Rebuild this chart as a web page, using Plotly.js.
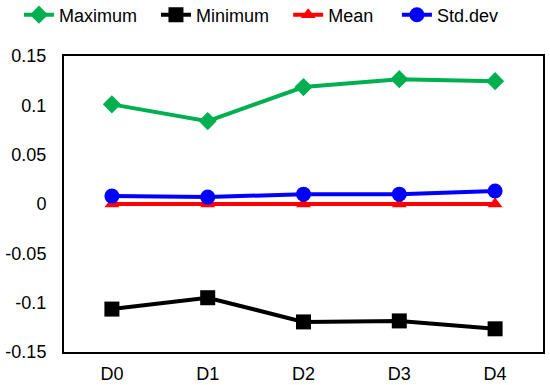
<!DOCTYPE html>
<html>
<head>
<script src="https://cdn.plot.ly/plotly-3.0.1.min.js"></script>
<style>html,body{margin:0;padding:0;background:#fff;}#chart{width:550px;height:385px;}</style>
</head>
<body>
<div id="chart"></div>
<script>
const categories = ["D0", "D1", "D2", "D3", "D4"];
const maximum = [0.101, 0.084, 0.1185, 0.1265, 0.1245];
const minimum = [-0.1065, -0.095, -0.1195, -0.1185, -0.1265];
const mean = [0, 0, 0, 0, 0];
const stddev = [0.008, 0.007, 0.010, 0.010, 0.0132];
const yTicks = [-0.15, -0.1, -0.05, 0, 0.05, 0.1, 0.15];
const yTickText = ["-0.15", "-0.1", "-0.05", "0", "0.05", "0.1", "0.15"];

const traces = [
  {x: categories, y: maximum, name: "Maximum", mode: "lines+markers", legend: "legend",
   line: {color: "#00B050", width: 4}, marker: {symbol: "diamond", size: 14, color: "#00B050"}},
  {x: categories, y: minimum, name: "Minimum", mode: "lines+markers", legend: "legend2",
   line: {color: "#000000", width: 4}, marker: {symbol: "square", size: 15, color: "#000000"}},
  {x: categories, y: mean, name: "Mean", mode: "lines+markers", legend: "legend3",
   line: {color: "#FF0000", width: 4}, marker: {symbol: "triangle-up", size: 13, color: "#FF0000"}},
  {x: categories, y: stddev, name: "Std.dev", mode: "lines+markers", legend: "legend4",
   line: {color: "#0000FF", width: 4}, marker: {symbol: "circle", size: 15, color: "#0000FF"}}
];

function leg(x) {
  return {orientation: "h", x: x, xanchor: "left", y: 1.1385, yanchor: "middle",
          font: {size: 18}, itemwidth: 30, bgcolor: "rgba(0,0,0,0)"};
}

const layout = {
  width: 550, height: 385,
  margin: {l: 64, r: 7, t: 56, b: 33, autoexpand: false},
  paper_bgcolor: "#fff", plot_bgcolor: "#fff",
  font: {family: "Liberation Sans, Arial, sans-serif", size: 18, color: "#000"},
  showlegend: true,
  legend: leg(-0.094),
  legend2: leg(0.192),
  legend3: leg(0.468),
  legend4: leg(0.695),
  xaxis: {type: "category", range: [-0.5, 4.5], showline: true, mirror: true,
          linecolor: "#000", linewidth: 2, showgrid: false, zeroline: false,
          ticks: "outside", ticklen: 4, tickcolor: "rgba(0,0,0,0)"},
  yaxis: {range: [-0.15, 0.15], tickvals: yTicks, ticktext: yTickText,
          showline: true, mirror: true, linecolor: "#000", linewidth: 2,
          showgrid: false, zeroline: false,
          ticks: "outside", ticklen: 12, tickcolor: "rgba(0,0,0,0)"}
};

Plotly.newPlot("chart", traces, layout, {displayModeBar: false, staticPlot: true});
</script>
</body>
</html>
